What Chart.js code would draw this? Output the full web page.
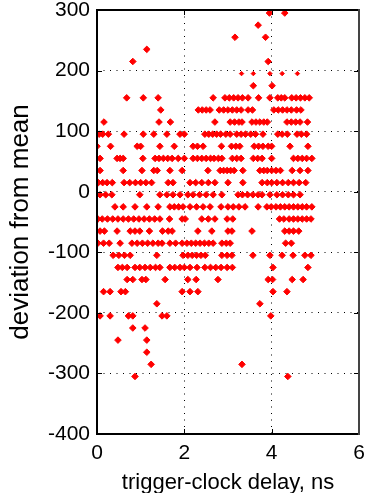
<!DOCTYPE html>
<html>
<head>
<meta charset="utf-8">
<script src="https://cdn.jsdelivr.net/npm/chart.js@4/dist/chart.umd.min.js"></script>
<style>
  html, body { margin: 0; padding: 0; background: #fff; }
  #wrap { width: 369px; height: 493px; }
</style>
</head>
<body>
<div id="wrap"><canvas id="c" width="369" height="493"></canvas></div>
<script>
// Axis settings / tick labels
const xTicks = [0, 2, 4, 6];
const yTicks = [-400, -300, -200, -100, 0, 100, 200, 300];
const xTitle = 'trigger-clock delay, ns';
const yTitle = 'deviation from mean';

// Delay values (ns) for each quantised deviation level
const r295 = [3.95, 4.3];
const r275 = [3.69];
const r255 = [3.16, 3.86];
const r235 = [1.14];
const r215 = [0.82, 3.92];
const r195small = [3.31, 3.58, 3.96, 4.24, 4.59];
const r175 = [3.58, 4.01];
const r155 = [0.68, 1.06, 1.4, 2.66, 2.93, 3.03, 3.13, 3.23, 3.33, 3.46, 3.7, 3.96, 4.14, 4.22, 4.3, 4.46, 4.56, 4.66, 4.76, 4.86];
const r135 = [1.46, 2.32, 2.41, 2.5, 2.59, 2.8, 2.9, 3.0, 3.1, 3.2, 3.3, 3.46, 3.56, 4.05, 4.15, 4.25, 4.35, 4.45, 4.57, 4.67];
const r115 = [0.16, 1.42, 1.68, 2.7, 3.05, 3.15, 3.25, 3.32, 3.55, 3.64, 3.73, 3.82, 3.9, 4.35, 4.45, 4.55, 4.65, 4.82];
const r95 = [0.05, 0.13, 0.26, 0.62, 1.06, 1.3, 1.6, 1.9, 2.0, 2.47, 2.56, 2.65, 2.74, 2.83, 2.95, 3.05, 3.2, 3.3, 3.4, 3.52, 3.63, 3.8, 4.14, 4.24, 4.36, 4.58, 4.68, 4.8];
const r75 = [0.0, 0.31, 0.92, 1.0, 1.44, 1.77, 2.2, 2.3, 2.43, 2.85, 3.08, 3.18, 3.27, 3.6, 3.7, 3.8, 3.92, 4.0, 4.42, 4.83];
const r55 = [0.07, 0.46, 0.53, 0.6, 1.05, 1.33, 1.42, 1.52, 1.62, 1.72, 1.86, 2.0, 2.2, 2.3, 2.4, 2.5, 2.6, 2.68, 2.78, 2.86, 3.1, 3.2, 3.3, 3.58, 3.68, 3.78, 4.0, 4.5, 4.6, 4.7, 4.8, 4.92];
const r35 = [0.07, 0.6, 1.03, 1.3, 1.38, 1.67, 1.95, 2.54, 2.82, 2.9, 2.98, 3.06, 3.14, 3.34, 3.73, 3.82, 3.9, 4.0, 4.1, 4.2, 4.47, 4.65, 4.83];
const r15 = [0.03, 0.13, 0.23, 0.35, 0.62, 0.75, 0.88, 1.0, 1.12, 1.25, 1.63, 1.74, 2.13, 2.26, 2.4, 2.55, 2.7, 3.0, 3.34, 3.78, 3.9, 4.0, 4.12, 4.25, 4.38, 4.5, 4.63, 4.78];
const rm5 = [0.07, 0.2, 0.34, 0.98, 1.44, 1.6, 1.74, 1.9, 2.08, 2.2, 2.35, 2.5, 2.66, 2.86, 3.23, 3.33, 3.45, 3.57, 3.69, 3.78, 3.96, 4.12, 4.25, 4.38, 4.5, 4.65];
const rm25 = [0.41, 0.6, 0.87, 1.14, 1.4, 1.67, 1.77, 1.87, 1.97, 2.13, 2.28, 2.43, 2.59, 2.84, 3.0, 3.12, 3.25, 3.39, 3.69, 3.89, 3.99, 4.1, 4.2, 4.3, 4.4, 4.5, 4.6, 4.7, 4.8, 4.92];
const rm45 = [0.02, 0.12, 0.24, 0.36, 0.48, 0.6, 0.72, 0.84, 0.96, 1.08, 1.2, 1.32, 1.44, 1.66, 1.95, 2.02, 2.4, 2.55, 2.7, 2.98, 3.11, 4.18, 4.28, 4.4, 4.5, 4.6, 4.7, 4.8, 4.9];
const rm65 = [0.07, 0.17, 0.46, 0.76, 0.87, 0.98, 1.2, 1.5, 1.63, 1.72, 2.31, 2.63, 3.0, 3.09, 3.55, 4.3, 4.4, 4.5, 4.62];
const rm85 = [0.02, 0.15, 0.28, 0.53, 0.8, 0.92, 1.04, 1.16, 1.28, 1.4, 1.49, 1.67, 1.8, 1.95, 2.06, 2.16, 2.26, 2.36, 2.46, 2.56, 2.66, 2.86, 2.96, 3.05, 4.32, 4.45];
const rm105 = [0.37, 0.5, 0.63, 0.76, 1.37, 1.97, 2.08, 2.18, 2.28, 2.38, 2.48, 2.86, 2.98, 3.09, 3.57, 3.96, 4.24, 4.49, 4.76, 4.9];
const rm125 = [0.48, 0.58, 0.69, 0.87, 0.98, 1.1, 1.22, 1.34, 1.44, 1.67, 1.78, 1.9, 2.0, 2.13, 2.29, 2.47, 2.6, 2.72, 2.84, 2.98, 3.1, 4.03, 4.83];
const rm145 = [0.69, 0.82, 1.03, 1.12, 1.56, 2.08, 2.27, 2.77, 3.92, 4.02, 4.47, 4.72];
const rm165 = [0.15, 0.3, 0.55, 0.65, 1.95, 2.13, 2.31, 4.03, 4.35];
const rm185 = [1.37, 3.73];
const rm205 = [0.07, 0.3, 0.72, 0.82, 1.49, 1.6, 3.98];
const rm225 = [0.82, 1.1];
const rm245 = [0.48, 1.14];
const rm265 = [1.14];
const rm285 = [1.24, 3.32];
const rm305 = [0.87, 4.37];

// deviation level -> delays
const rows = [
  [295, r295], [275, r275], [255, r255], [235, r235], [215, r215],
  [175, r175], [155, r155], [135, r135], [115, r115], [95, r95],
  [75, r75], [55, r55], [35, r35], [15, r15], [-5, rm5],
  [-25, rm25], [-45, rm45], [-65, rm65], [-85, rm85], [-105, rm105],
  [-125, rm125], [-145, rm145], [-165, rm165], [-185, rm185], [-205, rm205],
  [-225, rm225], [-245, rm245], [-265, rm265], [-285, rm285], [-305, rm305]
];
const smallRows = [[195, r195small]];

function toPoints(list) {
  const pts = [];
  list.forEach(([y, xs]) => xs.forEach(x => pts.push({x: x, y: y})));
  return pts;
}

const FONT = 'Liberation Sans, Arial, Helvetica, sans-serif';
const RED = '#ff0000';

const frame = {
  id: 'frame',
  afterDraw(chart) {
    const {ctx, chartArea: a, scales: {x, y}} = chart;
    ctx.save();
    ctx.strokeStyle = '#000';
    ctx.lineWidth = 1;
    ctx.beginPath();
    const tl = 5;
    x.ticks.forEach(t => {
      const px = Math.round(x.getPixelForValue(t.value)) + 0.5;
      ctx.moveTo(px, a.bottom); ctx.lineTo(px, a.bottom - tl);
      ctx.moveTo(px, a.top); ctx.lineTo(px, a.top + tl);
    });
    y.ticks.forEach(t => {
      const py = Math.round(y.getPixelForValue(t.value)) + 0.5;
      ctx.moveTo(a.left, py); ctx.lineTo(a.left + tl, py);
      ctx.moveTo(a.right, py); ctx.lineTo(a.right - tl, py);
    });
    ctx.stroke();
    ctx.lineWidth = 2;
    ctx.strokeStyle = '#000';
    ctx.beginPath();
    ctx.moveTo(a.right, a.top); ctx.lineTo(a.left, a.top); ctx.lineTo(a.left, a.bottom); ctx.lineTo(a.right, a.bottom);
    ctx.stroke();
    ctx.strokeStyle = '#444';
    ctx.beginPath();
    ctx.moveTo(a.right, a.top - 1); ctx.lineTo(a.right, a.bottom + 1);
    ctx.stroke();
    ctx.restore();
  }
};

new Chart(document.getElementById('c'), {
  type: 'scatter',
  data: {
    datasets: [
      {
        data: toPoints(rows),
        pointStyle: 'rectRot',
        pointRadius: 3.3,
        pointBorderWidth: 1,
        backgroundColor: RED,
        borderColor: RED
      },
      {
        data: toPoints(smallRows),
        pointStyle: 'rectRot',
        pointRadius: 2.2,
        pointBorderWidth: 1,
        backgroundColor: RED,
        borderColor: RED
      }
    ]
  },
  options: {
    responsive: false,
    animation: false,
    devicePixelRatio: 1,
    layout: { padding: { top: 10, right: 10, left: 0, bottom: 0 } },
    plugins: { legend: { display: false }, tooltip: { enabled: false } },
    scales: {
      x: {
        type: 'linear',
        min: xTicks[0], max: xTicks[xTicks.length - 1],
        afterBuildTicks: s => { s.ticks = xTicks.map(v => ({value: v})); },
        afterFit: s => { s.height = 59; s.paddingLeft = 0; s.paddingRight = 0; },
        ticks: { color: '#000', font: { family: FONT, size: 21 }, padding: 7, maxRotation: 0, autoSkip: false },
        grid: { color: '#000', lineWidth: 1, drawTicks: false },
        border: { display: false, dash: [1, 5.5] },
        title: { display: true, text: xTitle, color: '#000', font: { family: FONT, size: 22 }, padding: { top: 0, bottom: -3 } }
      },
      y: {
        type: 'linear',
        min: yTicks[0], max: yTicks[yTicks.length - 1],
        afterBuildTicks: s => { s.ticks = yTicks.map(v => ({value: v})); },
        afterFit: s => { s.width = 97; s.paddingTop = 0; s.paddingBottom = 0; },
        ticks: { color: '#000', font: { family: FONT, size: 21 }, padding: 7, autoSkip: false },
        grid: { color: '#000', lineWidth: 1, drawTicks: false },
        border: { display: false, dash: [1, 5.5] },
        title: { display: true, text: yTitle, color: '#000', font: { family: FONT, size: 26 }, padding: { top: 5, bottom: 0 } }
      }
    }
  },
  plugins: [frame]
});
</script>
</body>
</html>
